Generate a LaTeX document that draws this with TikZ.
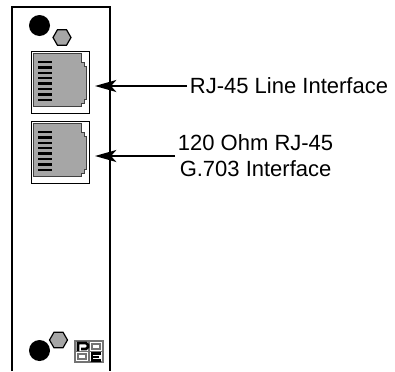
\documentclass[tikz,border=0pt]{standalone}
\usepackage{fontspec}
\setmainfont{Liberation Sans}
\usetikzlibrary{arrows.meta}

\tikzset{
  panel/.style={line width=0.9pt},
  jackbody/.style={fill=black!35, draw=black!75, line width=0.6pt},
  pin/.style={line width=1.7pt},
  hole/.style={fill=black},
  screw/.style={fill=black!35, draw=black, line width=0.9pt},
  callout/.style={-{Stealth[length=16pt,width=9pt,inset=4pt]}, line width=1.5pt},
  label/.style={font=\fontsize{16.5}{19.5}\selectfont, inner sep=2pt, align=center},
}

% one RJ-45 jack: name of its arrow point, top y
\newcommand{\rjjack}[2]{%
  \begin{scope}[shift={(31,#2)}]
    \draw[line width=0.6pt] (0,0) rectangle (58,62);
    \draw[jackbody] (2,2) -- (50,2) -- (50,11) -- (53,11) -- (53,15) -- (55,15)
      -- (55,48) -- (53,48) -- (53,52) -- (50,52) -- (50,55) -- (2,55) -- cycle;
    \foreach \k in {0,...,7}
      \draw[pin] (7,{11+\k*5.4}) -- (21,{11+\k*5.4});
    \coordinate (#1) at (64,35);
  \end{scope}}

% hexagon screw head
\newcommand{\hexscrew}[1]{%
  \draw[screw] (#1) ++(0:9) -- ++(120:9) -- ++(180:9) -- ++(240:9) -- ++(300:9) -- ++(0:9) -- cycle;}

\begin{document}
\begin{tikzpicture}[x=0.75pt, y=-0.75pt]
  \useasboundingbox (0,0) rectangle (395,371);

  % front panel
  \draw[panel] (12,371) -- (12,7) -- (110,7) -- (110,371);

  % top hole and screw
  \fill[hole] (39.5,25.5) circle (10.5);
  \coordinate (topscrew) at (62,37.5);
  \hexscrew{topscrew}

  % jacks
  \rjjack{jackA}{51}
  \rjjack{jackB}{121}

  % bottom hole and screw
  \fill[hole] (39.5,350.5) circle (10.5);
  \coordinate (botscrew) at (58.5,340);
  \hexscrew{botscrew}

  % logo
  \draw[black!55, line width=0.8pt] (75,341) rectangle (103,362);
  \draw[black!55, line width=0.8pt] (89,341) -- (89,362) (75,351.5) -- (103,351.5);
  \draw[black!55, line width=0.8pt] (92,344) rectangle (100,349) (78,354) rectangle (86,359);
  \draw[line width=2pt] (78,351) -- (78,343) -- (86,343) -- (88,345) -- (88,347) -- (86,349) -- (81,349);
  \draw[line width=2pt] (101,353.5) -- (92,353.5) -- (92,360.5) -- (101,360.5) (92,357) -- (99,357);

  % labels
  \node[label, anchor=west] (lineif) at (187,86) {RJ-45 Line Interface};
  \node[label, anchor=west] (g703if) at (175,156) {120 Ohm RJ-45\\G.703 Interface};

  \draw[callout] (lineif.west |- jackA) -- (jackA);
  \draw[callout] (g703if.west |- jackB) -- (jackB);
\end{tikzpicture}
\end{document}
